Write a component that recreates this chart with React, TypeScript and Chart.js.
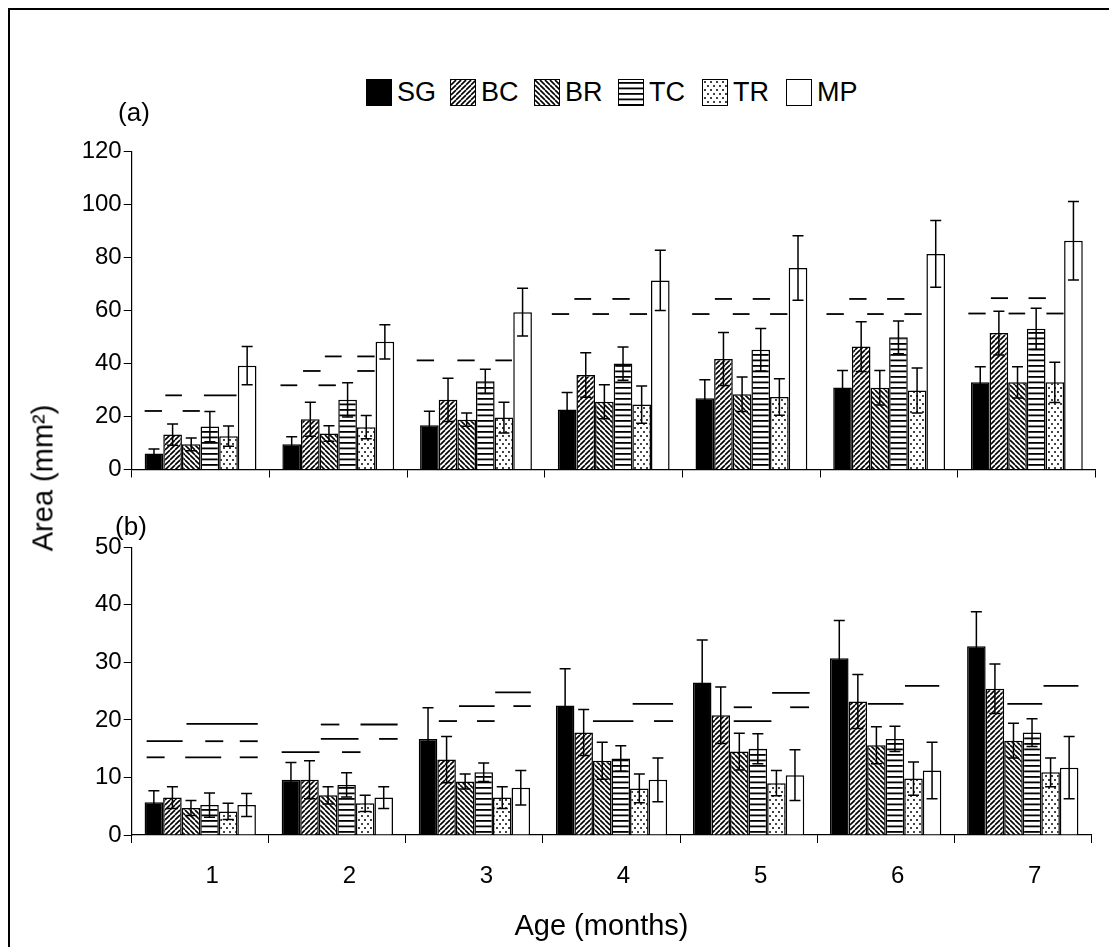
import React, { useEffect, useMemo, useRef } from 'react';
import { Chart, registerables } from 'chart.js';

Chart.register(...registerables);

// ---------- data ----------
const categories = ['1', '2', '3', '4', '5', '6', '7'];
const seriesLabels = ['SG', 'BC', 'BR', 'TC', 'TR', 'MP'];

// panel (a) means
const sgA = [6.0, 9.5, 16.7, 22.7, 26.9, 31.0, 32.9];
const bcA = [13.2, 19.0, 26.3, 35.7, 41.7, 46.4, 51.5];
const brA = [9.5, 13.6, 18.8, 25.6, 28.4, 30.9, 32.9];
const tcA = [16.2, 26.3, 33.3, 40.0, 45.2, 49.9, 53.1];
const trA = [12.6, 16.0, 19.6, 24.5, 27.4, 29.8, 32.9];
const mpA = [39.2, 48.2, 59.4, 71.4, 76.1, 81.4, 86.4];
// panel (a) error bars (±)
const sgErrA = [1.7, 2.9, 5.3, 6.4, 7.0, 6.4, 5.9];
const bcErrA = [4.0, 6.4, 8.2, 8.4, 10.0, 9.4, 8.3];
const brErrA = [2.4, 2.9, 2.5, 6.4, 6.5, 6.5, 5.9];
const tcErrA = [5.7, 6.5, 4.6, 6.3, 8.0, 6.2, 7.8];
const trErrA = [3.8, 4.4, 5.8, 7.0, 6.9, 8.5, 7.6];
const mpErrA = [7.2, 6.5, 9.0, 11.4, 12.2, 12.6, 14.8];

// panel (b) means
const sgB = [5.7, 9.6, 16.7, 22.5, 26.5, 30.7, 32.8];
const bcB = [6.5, 9.6, 13.1, 17.8, 20.8, 23.2, 25.4];
const brB = [4.7, 6.9, 9.3, 12.9, 14.5, 15.6, 16.4];
const tcB = [5.2, 8.7, 10.9, 13.3, 15.0, 16.7, 17.8];
const trB = [4.1, 5.5, 6.5, 8.1, 9.0, 9.8, 10.9];
const mpB = [5.2, 6.5, 8.2, 9.6, 10.4, 11.2, 11.7];
// panel (b) error bars (±)
const sgErrB = [2.0, 3.0, 5.4, 6.4, 7.4, 6.6, 6.0];
const bcErrB = [1.9, 3.3, 4.0, 4.0, 4.9, 4.7, 4.3];
const brErrB = [1.3, 1.5, 1.3, 3.2, 3.2, 3.2, 3.0];
const tcErrB = [2.1, 2.1, 1.6, 2.2, 2.6, 2.2, 2.4];
const trErrB = [1.4, 1.4, 1.9, 2.5, 2.2, 2.9, 2.5];
const mpErrB = [2.0, 1.9, 3.0, 3.8, 4.4, 4.9, 5.4];

// y axis ticks: [min, max, step]
const yTicksA = [0, 120, 20];
const yTicksB = [0, 50, 10];

// significance segments: [month index, from (bar units in group), to (bar units), value]
const sigA: number[][] = [
  [0, 0, 0.93, 22.1], [0, 2.04, 2.96, 22.1], [0, 1.11, 2.0, 28.0], [0, 3.18, 4.93, 28.0],
  [1, -0.1, 0.8, 31.8], [1, 1.94, 2.87, 31.8], [1, 1.11, 2.05, 37.2], [1, 4.02, 4.95, 37.2],
  [1, 2.28, 3.18, 42.7], [1, 4.02, 4.95, 42.7],
  [2, -0.18, 0.75, 41.2], [2, 2.0, 2.93, 41.2], [2, 4.04, 4.93, 41.2],
  [3, -0.32, 0.61, 58.7], [3, 1.86, 2.75, 58.7], [3, 3.86, 4.79, 58.7], [3, 0.89, 1.79, 64.4], [3, 2.93, 3.86, 64.4],
  [4, -0.18, 0.75, 58.7], [4, 2.0, 2.9, 58.7], [4, 4.0, 4.93, 58.7], [4, 1.04, 1.96, 64.4], [4, 3.07, 4.0, 64.4],
  [5, -0.36, 0.57, 58.7], [5, 1.82, 2.71, 58.7], [5, 3.82, 4.75, 58.7], [5, 0.86, 1.79, 64.4], [5, 2.89, 3.82, 64.4],
  [6, -0.14, 0.79, 58.9], [6, 2.02, 2.91, 58.9], [6, 4.05, 4.97, 58.9], [6, 1.07, 1.99, 64.7], [6, 3.09, 4.02, 64.7],
];
const sigB: number[][] = [
  [0, 2.26, 6.1, 19.3], [0, 0.11, 2.05, 16.3], [0, 3.27, 4.24, 16.3], [0, 5.13, 6.1, 16.3],
  [0, 0.11, 1.08, 13.5], [0, 2.19, 4.13, 13.5], [0, 5.13, 6.1, 13.5],
  [1, 2.11, 3.11, 19.2], [1, 4.25, 6.25, 19.2], [1, 2.11, 4.14, 16.7], [1, 5.25, 6.25, 16.7],
  [1, 0, 2.04, 14.4], [1, 3.25, 4.25, 14.4],
  [2, 1.08, 2.06, 19.8], [2, 3.14, 4.09, 19.8], [2, 2.17, 4.09, 22.4], [2, 5.1, 6.04, 22.4], [2, 4.12, 6.04, 24.8],
  [3, 2.0, 4.18, 19.8], [3, 5.29, 6.32, 19.8], [3, 4.14, 6.32, 22.8],
  [4, 4.27, 6.29, 24.7], [4, 2.2, 3.18, 22.2], [4, 5.24, 6.26, 22.2], [4, 2.2, 4.23, 19.8],
  [5, 2.04, 3.96, 22.8], [5, 4.04, 5.89, 25.9],
  [6, 2.17, 4.05, 22.8], [6, 4.12, 6.0, 25.9],
];

const FONT = "'Liberation Sans', Arial, sans-serif";
Chart.defaults.font.family = FONT;
Chart.defaults.color = '#000';

// ---------- fill patterns ----------
type Kind = 'solid' | 'fwd' | 'back' | 'horiz' | 'dots' | 'none';
const kinds: Kind[] = ['solid', 'fwd', 'back', 'horiz', 'dots', 'none'];

function makeTile(kind: Kind): HTMLCanvasElement | null {
  if (kind === 'solid' || kind === 'none') return null;
  const c = document.createElement('canvas');
  const ctx = c.getContext('2d')!;
  if (kind === 'fwd' || kind === 'back') {
    const s = 5;
    c.width = s; c.height = s;
    ctx.fillStyle = '#fff';
    ctx.fillRect(0, 0, s, s);
    ctx.strokeStyle = '#000';
    ctx.lineWidth = 1.6;
    for (const o of [-s, 0, s]) {
      ctx.beginPath();
      if (kind === 'fwd') { ctx.moveTo(o, s); ctx.lineTo(o + s, 0); }
      else { ctx.moveTo(o, 0); ctx.lineTo(o + s, s); }
      ctx.stroke();
    }
  } else if (kind === 'horiz') {
    c.width = 6; c.height = 11;
    ctx.fillStyle = '#fff';
    ctx.fillRect(0, 0, 6, 11);
    ctx.fillStyle = '#000';
    ctx.fillRect(0, 2, 6, 1.8);
    ctx.fillRect(0, 7.5, 6, 1.8);
  } else if (kind === 'dots') {
    c.width = 6; c.height = 8;
    ctx.fillStyle = '#fff';
    ctx.fillRect(0, 0, 6, 8);
    ctx.fillStyle = '#444';
    ctx.fillRect(1, 1, 2, 2);
    ctx.fillRect(4, 5, 2, 2);
  }
  return c;
}

function makeOverlay(errors: number[][], sig: number[][]) {
  return {
    id: 'errAndSig',
    afterDatasetsDraw(chart: any) {
      const ctx = chart.ctx as CanvasRenderingContext2D;
      const yScale = chart.scales.y;
      ctx.save();
      ctx.strokeStyle = '#000';
      ctx.lineWidth = 1.5;
      const cap = 5.5;
      chart.data.datasets.forEach((ds: any, di: number) => {
        const meta = chart.getDatasetMeta(di);
        meta.data.forEach((bar: any, i: number) => {
          const v = ds.data[i];
          const e = errors[di][i];
          const x = bar.x;
          const yT = yScale.getPixelForValue(v + e);
          const yB = yScale.getPixelForValue(v - e);
          ctx.beginPath();
          ctx.moveTo(x, yT); ctx.lineTo(x, yB);
          ctx.moveTo(x - cap, yT); ctx.lineTo(x + cap, yT);
          ctx.moveTo(x - cap, yB); ctx.lineTo(x + cap, yB);
          ctx.stroke();
        });
      });
      const meta0 = chart.getDatasetMeta(0);
      ctx.lineWidth = 1.8;
      sig.forEach(([g, s, e, v]) => {
        const bar: any = meta0.data[g];
        const w = bar.width;
        const left = bar.x - w / 2;
        const y = yScale.getPixelForValue(v);
        ctx.beginPath();
        ctx.moveTo(left + s * w, y);
        ctx.lineTo(left + e * w, y);
        ctx.stroke();
      });
      ctx.restore();
    },
  };
}

interface PanelCfg {
  values: number[][];
  errors: number[][];
  sig: number[][];
  yTicks: number[];
  padding: { left: number; top: number; right: number; bottom: number };
  yWidth: number;
  xHeight: number;
  showLabels: boolean;
}

function buildChart(canvas: HTMLCanvasElement, cfg: PanelCfg, fills: any[]) {
  const datasets = cfg.values.map((vals, i) => ({
    label: seriesLabels[i],
    data: vals,
    backgroundColor: fills[i],
    borderColor: '#000',
    borderWidth: 1.5,
    borderSkipped: 'start' as const,
    categoryPercentage: 0.812,
    barPercentage: 1,
  }));
  return new Chart(canvas, {
    type: 'bar',
    data: { labels: categories, datasets },
    options: {
      responsive: false,
      animation: false,
      events: [],
      layout: { padding: cfg.padding },
      plugins: { legend: { display: false }, tooltip: { enabled: false }, title: { display: false } },
      scales: {
        x: {
          type: 'category',
          offset: true,
          z: 1,
          grid: { display: true, offset: true, drawOnChartArea: false, drawTicks: true, tickLength: 8, color: '#000', lineWidth: 1 },
          border: { display: true, color: '#000', width: 1.2 },
          ticks: {
            display: cfg.showLabels,
            font: { size: 24, family: FONT },
            color: '#000',
            padding: 19,
            labelOffset: 12,
            maxRotation: 0,
            autoSkip: false,
          },
          afterFit: (s: any) => { s.height = cfg.xHeight; },
        },
        y: {
          min: cfg.yTicks[0],
          max: cfg.yTicks[1],
          ticks: { stepSize: cfg.yTicks[2], font: { size: 24, family: FONT }, color: '#000', padding: 2 },
          grid: { display: true, drawOnChartArea: false, drawTicks: true, tickLength: 8, color: '#000', lineWidth: 1 },
          border: { display: true, color: '#000', width: 1.2 },
          afterFit: (s: any) => { s.width = cfg.yWidth; },
        },
      },
    },
    plugins: [makeOverlay(cfg.errors, cfg.sig)],
  } as any);
}

export default function App() {
  const refA = useRef<HTMLCanvasElement>(null);
  const refB = useRef<HTMLCanvasElement>(null);

  const tiles = useMemo(() => kinds.map((k) => makeTile(k)), []);
  const swatchBg = useMemo(
    () => kinds.map((k, i) => {
      if (k === 'solid') return { background: '#000' };
      if (k === 'none') return { background: '#fff' };
      return { backgroundColor: '#fff', backgroundImage: `url(${tiles[i]!.toDataURL()})`, backgroundRepeat: 'repeat' };
    }),
    [tiles]
  );

  useEffect(() => {
    document.documentElement.style.overflow = 'hidden';
    document.body.style.overflow = 'hidden';
    const ctxTmp = document.createElement('canvas').getContext('2d')!;
    const fills = kinds.map((k, i) => {
      if (k === 'solid') return '#000';
      if (k === 'none') return '#fff';
      return ctxTmp.createPattern(tiles[i]!, 'repeat');
    });
    const a = buildChart(refA.current!, {
      values: [sgA, bcA, brA, tcA, trA, mpA],
      errors: [sgErrA, bcErrA, brErrA, tcErrA, trErrA, mpErrA],
      sig: sigA,
      yTicks: yTicksA,
      padding: { left: 0, top: 41.7, right: 13.3, bottom: 30.5 },
      yWidth: 131.7,
      xHeight: 10,
      showLabels: false,
    }, fills);
    const b = buildChart(refB.current!, {
      values: [sgB, bcB, brB, tcB, trB, mpB],
      errors: [sgErrB, bcErrB, brErrB, tcErrB, trErrB, mpErrB],
      sig: sigB,
      yTicks: yTicksB,
      padding: { left: 0, top: 37.3, right: 17.7, bottom: 15 },
      yWidth: 131.7,
      xHeight: 60,
      showLabels: true,
    }, fills);
    return () => { a.destroy(); b.destroy(); };
  }, [tiles]);

  const centered = (x: number, y: number, extra: React.CSSProperties = {}): React.CSSProperties => ({
    position: 'absolute', left: x, top: y, transform: 'translate(-50%, -50%)', whiteSpace: 'nowrap', lineHeight: 1, ...extra,
  });

  return (
    <div style={{ position: 'fixed', left: 0, top: 0, width: 1109, height: 947, overflow: 'hidden', background: '#fff', fontFamily: FONT, color: '#000' }}>
      <div style={{ position: 'absolute', left: 8, top: 8, width: 1300, height: 1200, border: '2px solid #000', boxSizing: 'border-box' }} />
      <canvas ref={refA} width={1109} height={400} style={{ position: 'absolute', left: 0, top: 110 }} />
      <canvas ref={refB} width={1109} height={400} style={{ position: 'absolute', left: 0, top: 510 }} />

      {/* legend */}
      <div style={{ position: 'absolute', left: 366, top: 79, display: 'flex', alignItems: 'center' }}>
        {seriesLabels.map((lab, i) => (
          <div key={lab} style={{ display: 'flex', alignItems: 'center', width: i < seriesLabels.length - 1 ? 84 : undefined }}>
            <span style={{ display: 'inline-block', width: 26, height: 27, boxSizing: 'border-box', border: '1.5px solid #000', ...swatchBg[i] }} />
            <span style={{ marginLeft: 5, fontSize: 27, lineHeight: '27px' }}>{lab}</span>
          </div>
        ))}
      </div>

      <div style={centered(134, 112, { fontSize: 26 })}>(a)</div>
      <div style={centered(131, 525.5, { fontSize: 26 })}>(b)</div>
      <div style={centered(43, 477.5, { fontSize: 29, transform: 'translate(-50%, -50%) rotate(-90deg)' })}>Area (mm²)</div>
      <div style={centered(601.5, 925, { fontSize: 29 })}>Age (months)</div>
    </div>
  );
}
